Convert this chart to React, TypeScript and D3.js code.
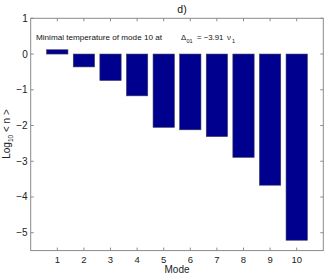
import React from "react";
import * as d3 from "d3";

const modes = [1, 2, 3, 4, 5, 6, 7, 8, 9, 10];
const logN = [0.12, -0.36, -0.74, -1.17, -2.05, -2.12, -2.31, -2.89, -3.67, -5.21];
const yTicks = [1, 0, -1, -2, -3, -4, -5];
const xTicks = [1, 2, 3, 4, 5, 6, 7, 8, 9, 10];

export default function App() {
  const W = 327, H = 276;
  const L = 30.7, R = 323.3, T = 18.3, B = 250.6;
  const x = d3.scaleLinear().domain([0, 11]).range([L, R]);
  const y = d3.scaleLinear().domain([-5.5, 1]).range([B, T]);
  const bw = (x(1) - x(0)) * 0.8;
  const axisColor = "#8a8a8a";
  const font = "Liberation Sans, Arial, sans-serif";
  return (
    <svg width={W} height={H} style={{ position: "absolute", left: 0, top: 0, background: "#fff" }} fontFamily={font}>
      <rect x={0} y={0} width={W} height={H} fill="#fff" />
      {modes.map((m, i) => {
        const v = logN[i];
        const y0 = y(Math.max(0, v));
        const y1 = y(Math.min(0, v));
        return (
          <rect key={m} x={x(m) - bw / 2} y={y0} width={bw} height={y1 - y0}
            fill="#00008f" stroke="#3a3a5a" strokeWidth={0.6} />
        );
      })}
      <rect x={L} y={T} width={R - L} height={B - T} fill="none" stroke={axisColor} strokeWidth={1} />
      {yTicks.map((t) => (
        <g key={"y" + t}>
          <line x1={L} x2={L + 3} y1={y(t)} y2={y(t)} stroke={axisColor} />
          <line x1={R} x2={R - 3} y1={y(t)} y2={y(t)} stroke={axisColor} />
          <text x={L - 3} y={y(t)} dy="0.35em" textAnchor="end" fontSize={10} fill="#222">
            {t < 0 ? "\u2212" + Math.abs(t) : String(t)}
          </text>
        </g>
      ))}
      {xTicks.map((t) => (
        <g key={"x" + t}>
          <line x1={x(t)} x2={x(t)} y1={B} y2={B - 3} stroke={axisColor} />
          <line x1={x(t)} x2={x(t)} y1={T} y2={T + 3} stroke={axisColor} />
          <text x={x(t)} y={B + 12} textAnchor="middle" fontSize={9.5} fill="#222">{t}</text>
        </g>
      ))}
      <text x={(L + R) / 2 + 5} y={13} textAnchor="middle" fontSize={10.5} fill="#111">d)</text>
      <text x={(L + R) / 2} y={273} textAnchor="middle" fontSize={10} fill="#222">Mode</text>
      <text transform={`translate(10, ${134}) rotate(-90)`} textAnchor="middle" fontSize={10} fill="#222">
        Log<tspan fontSize={6.5} dy={2.5}>10</tspan><tspan dy={-2.5}> &lt; n &gt;</tspan>
      </text>
      <text x={36} y={40} fontSize={7.8} fill="#111" textLength={126} lengthAdjust="spacingAndGlyphs">Minimal temperature of mode 10 at</text>
      <text x={181} y={40} fontSize={7.8} fill="#111">{"\u0394"}</text>
      <text x={186.5} y={42.5} fontSize={5.5} fill="#111">01</text>
      <text x={197} y={40} fontSize={7.8} fill="#111">{"= \u22123.91"}</text>
      <text x={227} y={40} fontSize={7.8} fill="#111">{"\u03bd"}</text>
      <text x={232} y={42.5} fontSize={5.5} fill="#111">1</text>
    </svg>
  );
}
